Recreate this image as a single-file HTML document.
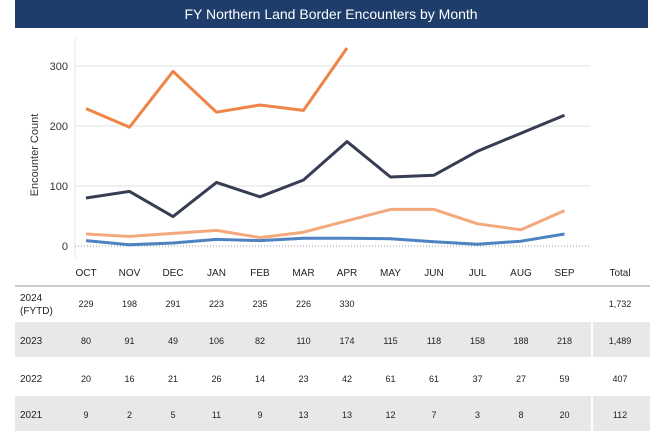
<!DOCTYPE html>
<html><head><meta charset="utf-8"><style>
body{margin:0;background:#fff;font-family:"Liberation Sans",sans-serif;}
</style></head><body>
<svg id="c" width="665" height="431" xmlns="http://www.w3.org/2000/svg" font-family="Liberation Sans, sans-serif">
<rect x="15" y="0" width="633" height="28" fill="#1f3d6b"/>
<text x="331" y="19" text-anchor="middle" fill="#fff" font-size="14">FY Northern Land Border Encounters by Month</text>
<line x1="75" y1="38" x2="75" y2="258" stroke="#e4e4e4"/>
<text transform="translate(38,155) rotate(-90)" text-anchor="middle" font-size="11" fill="#333">Encounter Count</text>
<g id="grid"></g><g id="lines"></g><g id="table"></g>
</svg>
<script>
const months=["OCT","NOV","DEC","JAN","FEB","MAR","APR","MAY","JUN","JUL","AUG","SEP"];
const yTicks=[0,100,200,300];
const years=["2024","2023","2022","2021"];
const s2024=[229,198,291,223,235,226,330];
const s2023=[80,91,49,106,82,110,174,115,118,158,188,218];
const s2022=[20,16,21,26,14,23,42,61,61,37,27,59];
const s2021=[9,2,5,11,9,13,13,12,7,3,8,20];
const totals=["1,732","1,489","407","112"];
const series=[s2024,s2023,s2022,s2021];
const colors=["#ef8447","#373d52","#f4a97c","#4d82c3"];
const NS="http://www.w3.org/2000/svg";
const x=i=>86+i*43.5;
const y=v=>246-v*0.6;
function mk(t,a,p){const e=document.createElementNS(NS,t);for(const k in a)e.setAttribute(k,a[k]);p.appendChild(e);return e;}
const grid=document.getElementById('grid'),lines=document.getElementById('lines'),table=document.getElementById('table');
yTicks.forEach(t=>{
 const l=mk('line',{x1:75,x2:590,y1:y(t),y2:y(t),stroke:t===0?"#999":"#e2e2e2","stroke-dasharray":t===0?"1,2":"none"},grid);
 
 
 const tx=mk('text',{x:68,y:y(t)+4,"text-anchor":"end","font-size":11,fill:"#333"},grid);tx.textContent=t;
 
 
});
[3,2,1,0].forEach(k=>{
 const pts=series[k].map((v,i)=>x(i)+","+y(v)).join(" ");
 const p=mk('polyline',{points:pts,fill:"none",stroke:colors[k],"stroke-width":3,"stroke-linejoin":"round"},lines);
 
 
});
// table
[[322,357],[396,431]].forEach((r,i)=>{const g=mk('rect',{x:15,y:r[0],width:635,height:r[1]-r[0],fill:"#e8e8e8"},table);
 
 
 mk('line',{x1:592,x2:592,y1:r[0],y2:r[1],stroke:"#fff","stroke-width":2},table);});
mk('line',{x1:15,x2:650,y1:286,y2:286,stroke:"#999"},table);
months.forEach((m,i)=>{const t=mk('text',{x:x(i),y:276,"text-anchor":"middle","font-size":10,fill:"#222"},table);t.textContent=m;
 
 });
const tt=mk('text',{x:620,y:276,"text-anchor":"middle","font-size":10,fill:"#222"},table);tt.textContent="Total";


const rowY=[307,344,382,418];
years.forEach((yr,k)=>{
 if(k===0){const a=mk('text',{x:20,y:301,"font-size":10,fill:"#222"},table);a.textContent="2024";
  const b=mk('text',{x:20,y:314,"font-size":10,fill:"#222"},table);b.textContent="(FYTD)";}
 else{const a=mk('text',{x:20,y:rowY[k],"font-size":10,fill:"#222"},table);a.textContent=yr;
  
  }
 series[k].forEach((v,i)=>{const c=mk('text',{x:x(i),y:rowY[k],"text-anchor":"middle","font-size":9,fill:"#222"},table);c.textContent=v;
  
  });
 const tc=mk('text',{x:620,y:rowY[k],"text-anchor":"middle","font-size":9,fill:"#222"},table);tc.textContent=totals[k];
 
 
});
</script>
</body></html>
